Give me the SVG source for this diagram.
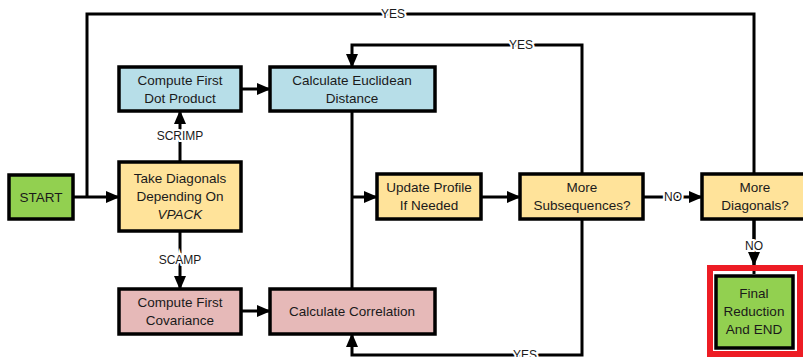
<svg xmlns="http://www.w3.org/2000/svg" width="803" height="357" viewBox="0 0 803 357">
<style>
.box{stroke:#000;stroke-width:3.5}
.blue{fill:#B7DEE8}
.yel{fill:#FFE39A}
.pink{fill:#E6B9B8}
.green{fill:#92D050}
text{font-family:"Liberation Sans",Arial,sans-serif;font-size:13.5px;fill:#1a1a1a;text-anchor:middle}
.lbl{font-size:12px;stroke:#fff;stroke-width:4;paint-order:stroke;dominant-baseline:central}
.c line,.c polyline{stroke:#000;stroke-width:3;fill:none}
</style>
<defs>
<marker id="ah" markerUnits="userSpaceOnUse" markerWidth="14" markerHeight="14" viewBox="0 0 14 14" refX="13" refY="7" orient="auto">
<path d="M0,1 L14,7 L0,13 Z" fill="#000"/>
</marker>
</defs>
<rect width="803" height="357" fill="#fff"/>
<g class="c" id="connectors">
<polyline points="754,174 754,14 87,14 87,197"/>
<line x1="73" y1="197" x2="119" y2="197" marker-end="url(#ah)"/>
<line x1="180" y1="162" x2="180" y2="111" marker-end="url(#ah)"/>
<line x1="180" y1="231" x2="180" y2="289" marker-end="url(#ah)"/>
<line x1="241" y1="89" x2="270" y2="89" marker-end="url(#ah)"/>
<line x1="241" y1="311" x2="270" y2="311" marker-end="url(#ah)"/>
<line x1="352" y1="111" x2="352" y2="289"/>
<line x1="352" y1="197" x2="377" y2="197" marker-end="url(#ah)"/>
<line x1="481" y1="197" x2="520" y2="197" marker-end="url(#ah)"/>
<line x1="643" y1="197" x2="702" y2="197" marker-end="url(#ah)"/>
<polyline points="582,174 582,45 352,45 352,67" marker-end="url(#ah)"/>
<polyline points="582,219 582,355 352,355 352,334" marker-end="url(#ah)"/>
<line x1="754" y1="219" x2="754" y2="274"/>
<line x1="754" y1="219" x2="754" y2="265" marker-end="url(#ah)"/>
<text class="lbl" x="393" y="14">YES</text>
<text class="lbl" x="521" y="45">YES</text>
<text class="lbl" x="525" y="355">YES</text>
<text class="lbl" x="180" y="136">SCRIMP</text>
<text class="lbl" x="180" y="260">SCAMP</text>
<text class="lbl" x="673" y="197">NO</text>
<text class="lbl" x="754" y="246">NO</text>
</g>
<g id="start"><rect class="box green" x="9" y="175" width="64" height="44"/><text x="41" y="202">START</text></g>
<g id="take"><rect class="box yel" x="119" y="162" width="122" height="69"/><text x="180" y="183">Take Diagonals</text><text x="180" y="201">Depending On</text><text x="180" y="219" font-style="italic">VPACK</text></g>
<g id="dot"><rect class="box blue" x="119" y="67" width="122" height="44"/><text x="180" y="85">Compute First</text><text x="180" y="103">Dot Product</text></g>
<g id="euclid"><rect class="box blue" x="270" y="67" width="165" height="44"/><text x="352" y="85">Calculate Euclidean</text><text x="352" y="103">Distance</text></g>
<g id="cov"><rect class="box pink" x="119" y="289" width="122" height="45"/><text x="180" y="307">Compute First</text><text x="180" y="325">Covariance</text></g>
<g id="corr"><rect class="box pink" x="270" y="289" width="165" height="45"/><text x="352" y="316">Calculate Correlation</text></g>
<g id="update"><rect class="box yel" x="377" y="174" width="104" height="45"/><text x="429" y="192">Update Profile</text><text x="429" y="210">If Needed</text></g>
<g id="subseq"><rect class="box yel" x="520" y="174" width="123" height="45"/><text x="582" y="192">More</text><text x="582" y="210">Subsequences?</text></g>
<g id="diag"><rect class="box yel" x="702" y="174" width="106" height="45"/><text x="755" y="192">More</text><text x="755" y="210">Diagonals?</text></g>
<g id="final"><rect x="710" y="268" width="90" height="86" fill="none" stroke="#ED1C24" stroke-width="6"/><rect class="box green" x="716" y="276" width="77" height="72"/><text x="754" y="298">Final</text><text x="754" y="316">Reduction</text><text x="754" y="334">And END</text></g>
</svg>
